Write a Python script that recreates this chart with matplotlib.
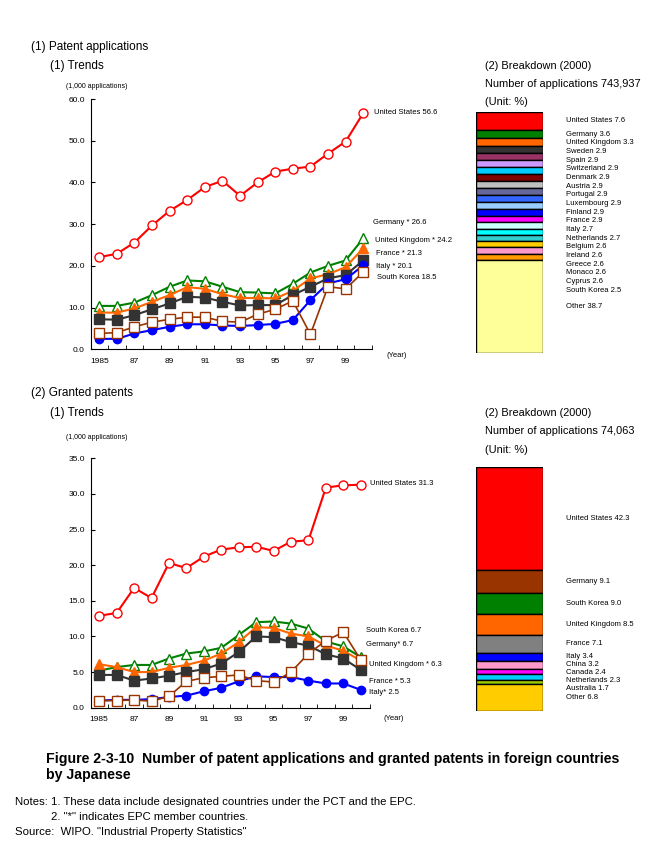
import numpy as np
import matplotlib
matplotlib.use("Agg")
import matplotlib.pyplot as plt

plt.rcParams['font.family'] = ['Liberation Sans', 'DejaVu Sans']

years = list(range(1985, 2001))
year_labels = ["1985", "", "87", "", "89", "", "91", "", "93", "", "95", "", "97", "", "99", ""]

# (1) patent applications, 1,000 applications
app_us = [22.1, 22.9, 25.6, 29.7, 33.2, 35.8, 38.9, 40.4, 36.8, 40.0, 42.6, 43.3, 43.8, 46.9, 49.8, 56.6]
app_germany = [10.4, 10.4, 11.2, 13.0, 15.0, 16.5, 16.3, 15.0, 13.7, 13.6, 13.4, 15.7, 18.4, 20.0, 21.3, 26.6]
app_uk = [8.8, 8.8, 9.8, 11.4, 13.0, 14.9, 14.5, 13.2, 12.3, 12.3, 12.2, 14.0, 17.0, 18.0, 19.7, 24.2]
app_france = [7.2, 7.1, 8.2, 9.6, 11.0, 12.6, 12.4, 11.4, 10.5, 10.6, 10.6, 13.0, 15.0, 17.0, 17.8, 21.3]
app_italy = [2.5, 2.5, 3.8, 4.6, 5.4, 6.0, 6.0, 5.7, 5.6, 5.8, 6.1, 7.0, 11.8, 15.8, 16.8, 20.1]
app_korea = [3.8, 4.0, 5.4, 6.5, 7.2, 7.7, 7.7, 6.7, 6.5, 8.4, 9.6, 11.6, 3.6, 15.0, 14.5, 18.5]
app_end_labels = ["United States 56.6", "Germany * 26.6", "United Kingdom * 24.2",
                  "France * 21.3", "Italy * 20.1", "South Korea 18.5"]

# (2) granted patents, 1,000
grant_us = [12.9, 13.3, 16.8, 15.4, 20.3, 19.6, 21.2, 22.2, 22.5, 22.6, 22.0, 23.3, 23.5, 30.9, 31.2, 31.3]
grant_germany = [5.2, 5.7, 6.0, 6.0, 6.9, 7.6, 7.9, 8.4, 10.2, 12.0, 12.1, 11.8, 11.1, 9.3, 8.6, 7.1]
grant_uk = [6.1, 5.7, 5.0, 5.0, 5.6, 6.0, 6.6, 7.6, 9.2, 11.3, 11.2, 10.4, 10.0, 8.7, 8.0, 6.6]
grant_france = [4.6, 4.6, 3.8, 4.1, 4.5, 5.0, 5.4, 6.2, 7.8, 10.0, 9.9, 9.2, 8.7, 7.5, 6.9, 5.3]
grant_italy = [1.0, 1.1, 1.1, 1.2, 1.5, 1.7, 2.3, 2.8, 3.7, 4.4, 4.3, 4.3, 3.8, 3.4, 3.4, 2.5]
grant_korea = [1.0, 1.0, 1.1, 0.9, 1.6, 3.7, 4.2, 4.4, 4.6, 3.8, 3.6, 5.0, 7.6, 9.4, 10.6, 6.7]
grant_end_labels = ["United States 31.3", "South Korea 6.7", "Germany* 6.7",
                    "United Kingdom * 6.3", "France * 5.3", "Italy* 2.5"]

# breakdowns (2000), %
app_share_names = ["United States", "Germany", "United Kingdom", "Sweden", "Spain", "Switzerland",
                   "Denmark", "Austria", "Portugal", "Luxembourg", "Finland", "France", "Italy",
                   "Netherlands", "Belgium", "Ireland", "Greece", "Monaco", "Cyprus", "South Korea", "Other"]
app_share = [7.6, 3.6, 3.3, 2.9, 2.9, 2.9, 2.9, 2.9, 2.9, 2.9, 2.9, 2.9, 2.7, 2.7, 2.6, 2.6, 2.6, 2.6, 2.6, 2.5, 38.7]

grant_share_names = ["United States", "Germany", "South Korea", "United Kingdom", "France", "Italy",
                     "China", "Canada", "Netherlands", "Australia", "Other"]
grant_share = [42.3, 9.1, 9.0, 8.5, 7.1, 3.4, 3.2, 2.4, 2.3, 1.7, 6.8]

app_colors = ['#FF0000', '#008000', '#FF6600', '#333333', '#993366', '#CC99FF', '#00CCFF', '#800000',
              '#C0C0C0', '#666699', '#3366FF', '#99CCFF', '#0000FF', '#FF00FF', '#CCFFFF', '#00FFFF',
              '#33CCCC', '#FFCC00', '#FF99CC', '#FF9900', '#FFFF99']
grant_colors = ['#FF0000', '#993300', '#008000', '#FF6600', '#808080', '#0000FF', '#FF99CC',
                '#FF00FF', '#00CCFF', '#99CC00', '#FFCC00']

# line styles: us, germany, uk, france, italy, korea
styles = [
    dict(color='#FF0000', marker='o', mfc='white', mec='#FF0000', ms=6.5, lw=1.5),
    dict(color='#008000', marker='^', mfc='white', mec='#008000', ms=7, lw=1.5),
    dict(color='#FF6600', marker='^', mfc='#FF6600', mec='#FF6600', ms=7, lw=1.5),
    dict(color='#333333', marker='s', mfc='#333333', mec='#333333', ms=6.5, lw=1.5),
    dict(color='#0000FF', marker='o', mfc='#0000FF', mec='#0000FF', ms=6, lw=1.5),
    dict(color='#993300', marker='s', mfc='white', mec='#993300', ms=6.5, lw=1.2),
]

W, H = 660, 850
fig = plt.figure(figsize=(6.6, 8.5), dpi=100)


def px(x, y):
    return x / W, 1 - y / H


def ftext(x, y, s, **kw):
    fx, fy = px(x, y)
    fig.text(fx, fy, s, va='center', ha='left', **kw)


def axes_px(left, top, right, bottom):
    return fig.add_axes([left / W, 1 - bottom / H, (right - left) / W, (bottom - top) / H])


def draw_trends(ax, series, ymax, ystep, labels, label_pos):
    x = np.arange(len(years))
    for vals, st in zip(series, styles):
        ax.plot(x, vals, clip_on=False, **st)
    ax.set_xlim(-0.5, len(years) - 0.5)
    ax.set_ylim(0, ymax)
    ax.set_yticks(np.arange(0, ymax + 0.1, ystep))
    ax.set_yticklabels([f"{v:.1f}" for v in np.arange(0, ymax + 0.1, ystep)], fontsize=6)
    ax.set_xticks(x)
    ax.set_xticklabels(year_labels, fontsize=6)
    ax.set_xticks(np.arange(-0.5, len(years)), minor=True)
    ax.tick_params(axis='x', which='major', length=0, pad=6)
    ax.tick_params(axis='x', which='minor', direction='in', length=3)
    ax.tick_params(axis='y', direction='in', length=3, pad=4)
    for s in ['top', 'right']:
        ax.spines[s].set_visible(False)
    for (lx, ly), s in zip(label_pos, labels):
        ax.text(lx, ly, s, fontsize=5.5, va='center', ha='left')


def draw_breakdown(ax, names, shares, colors, drawn, gap):
    bottom = 0
    centers = []
    for h, c in zip(drawn, colors):
        ax.bar(0, h, bottom=bottom, width=1, color=c, edgecolor='black', linewidth=1)
        centers.append(bottom + h / 2)
        bottom += h
    ax.set_xlim(-0.5, 0.5)
    ax.set_ylim(100, 0)
    ax.axis('off')
    prev = -100
    for name, v, cy in zip(names, shares, centers):
        y = max(cy, prev + gap)
        prev = y
        ax.text(1.35, y, f"{name} {v}", transform=ax.get_yaxis_transform(),
                fontsize=5.5, va='center', ha='left')


# ---------- (1) Patent applications ----------
ftext(31, 47, "(1) Patent applications", fontsize=8.5)
ftext(50, 66, "(1) Trends", fontsize=8.5)
ftext(66, 87, "(1,000 applications)", fontsize=5)
ftext(485, 66, "(2) Breakdown (2000)", fontsize=7.9)
ftext(485, 84, "Number of applications 743,937", fontsize=7.9)
ftext(485, 102, "(Unit: %)", fontsize=7.9)

ax1 = axes_px(90.5, 99, 372, 349.3)
draw_trends(ax1, [app_us, app_germany, app_uk, app_france, app_italy, app_korea], 60, 10,
            app_end_labels,
            [(15.6, 56.7), (15.55, 30.3), (15.65, 26.2), (15.7, 22.9), (15.75, 19.8), (15.8, 17.2)])
ftext(387, 355, "(Year)", fontsize=5.5)

ax2 = axes_px(476, 111.5, 543, 352.5)
draw_breakdown(ax2, app_share_names, app_share, app_colors, app_share, 3.6)

# ---------- (2) Granted patents ----------
ftext(31, 393, "(2) Granted patents", fontsize=8.5)
ftext(50, 413, "(1) Trends", fontsize=8.5)
ftext(66, 437, "(1,000 applications)", fontsize=5)
ftext(485, 413, "(2) Breakdown (2000)", fontsize=7.9)
ftext(485, 431, "Number of applications 74,063", fontsize=7.9)
ftext(485, 450, "(Unit: %)", fontsize=7.9)

ax3 = axes_px(90.5, 458.3, 369.5, 707.7)
draw_trends(ax3, [grant_us, grant_germany, grant_uk, grant_france, grant_italy, grant_korea], 35, 5,
            grant_end_labels,
            [(15.5, 31.4), (15.3, 10.9), (15.3, 8.9), (15.45, 6.0), (15.45, 3.7), (15.45, 2.1)])
ftext(383, 719, "(Year)", fontsize=5.5)

# "Other" fills the rest of the 100% column
grant_drawn = grant_share[:-1] + [100 - sum(grant_share[:-1])]
ax4 = axes_px(476, 467.3, 543, 711)
draw_breakdown(ax4, grant_share_names, grant_share, grant_colors, grant_drawn, 3.3)

# ---------- title and notes ----------
ftext(46, 759, "Figure 2-3-10  Number of patent applications and granted patents in foreign countries",
      fontsize=10.2, fontweight='bold')
ftext(46, 775, "by Japanese", fontsize=10.2, fontweight='bold')
ftext(15, 802, "Notes: 1. These data include designated countries under the PCT and the EPC.", fontsize=8.2)
ftext(51, 817, "2. \"*\" indicates EPC member countries.", fontsize=8.2)
ftext(15, 832, "Source:  WIPO. \"Industrial Property Statistics\"", fontsize=8.2)

fig.savefig("out.png", dpi=100)
